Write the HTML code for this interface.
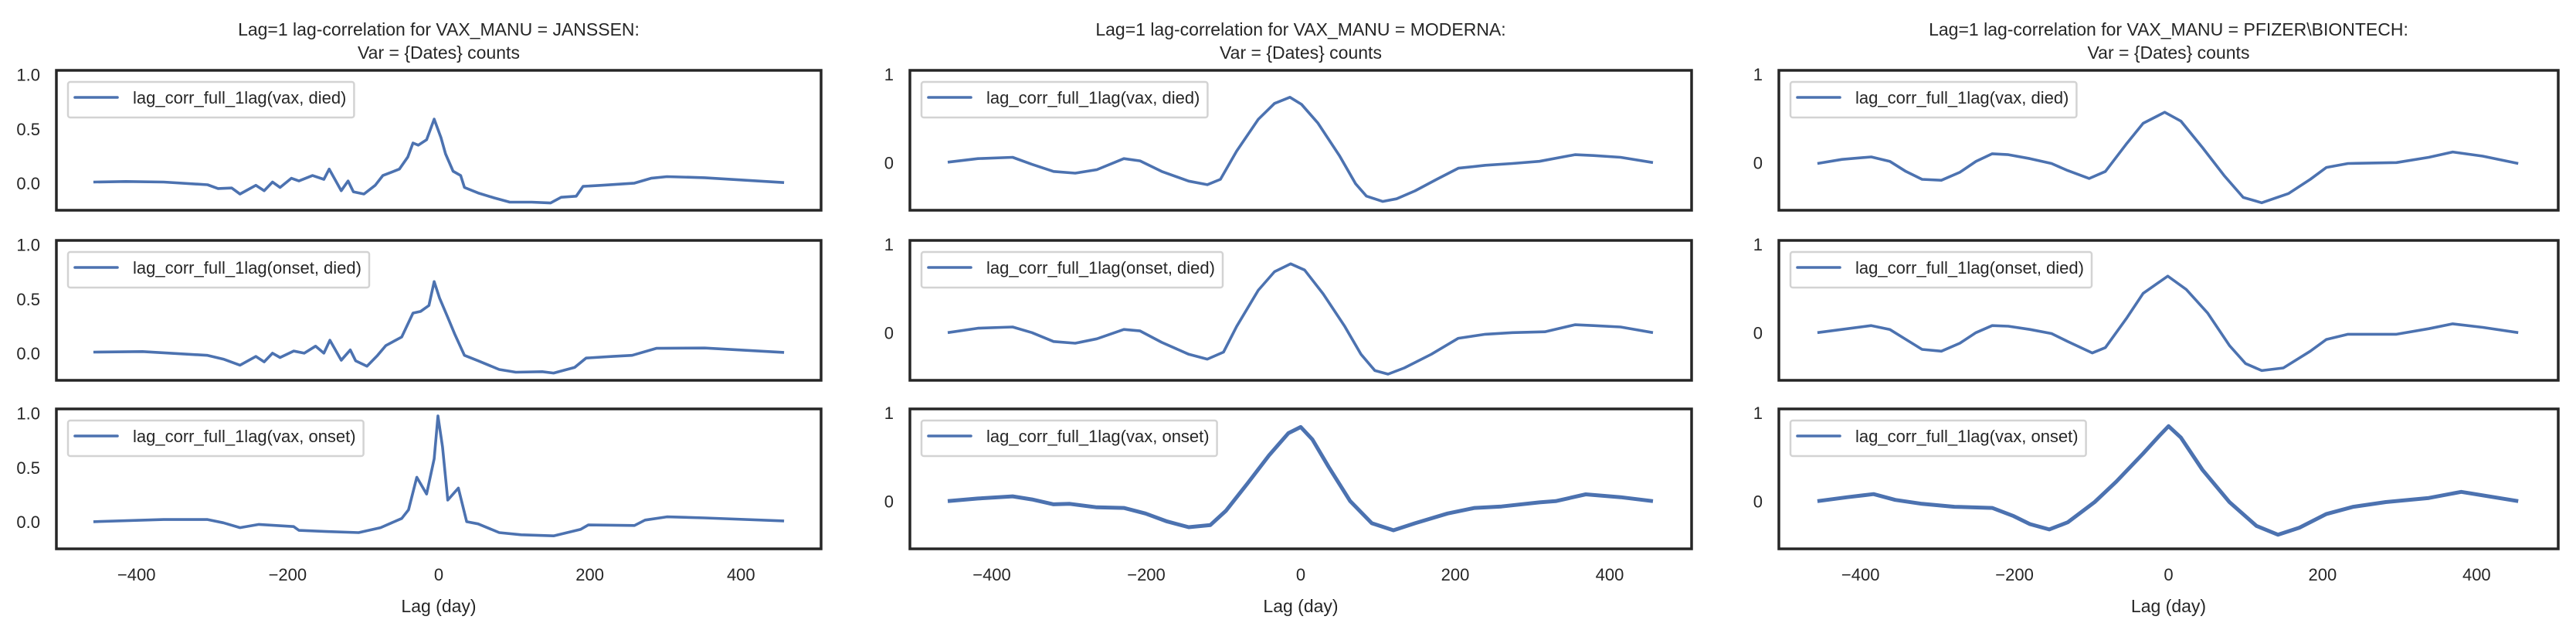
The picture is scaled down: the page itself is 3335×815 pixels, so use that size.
<!DOCTYPE html>
<html><head><meta charset="utf-8"><style>
html,body{margin:0;padding:0;background:#fff;}
svg{display:block;font-family:"Liberation Sans",Arial,sans-serif;}
</style></head><body>
<svg id="chart" width="3335" height="815" viewBox="0 0 3335 815" xmlns="http://www.w3.org/2000/svg"></svg>
<script>
// ---- data (lag in days, correlation values) ----
const manufacturers = ["JANSSEN", "MODERNA", "PFIZER\\BIONTECH"];
const seriesNames = ["lag_corr_full_1lag(vax, died)", "lag_corr_full_1lag(onset, died)", "lag_corr_full_1lag(vax, onset)"];
const xTicks = [-400, -200, 0, 200, 400];
const janssenYTicks = [0.0, 0.5, 1.0];
const janssenYTickLabels = ["0.0", "0.5", "1.0"];
const mrnaYTicks = [0, 1];
const mrnaYTickLabels = ["0", "1"];

const janVaxDiedLag = [-457,-414,-364,-306,-292,-274,-263,-242,-231,-220,-210,-195,-185,-167,-152,-145,-129,-120,-113,-99,-84,-74,-63,-52,-41,-34,-27,-16,-6,3,9,19,29,34,52,73,94,123,148,162,182,191,216,259,281,302,352,457];
const janVaxDiedVal = [0.01,0.015,0.01,-0.015,-0.05,-0.045,-0.10,-0.02,-0.07,0.01,-0.04,0.045,0.02,0.07,0.035,0.13,-0.07,0.02,-0.08,-0.10,-0.02,0.07,0.10,0.13,0.24,0.37,0.35,0.40,0.59,0.42,0.27,0.11,0.07,-0.04,-0.09,-0.135,-0.175,-0.175,-0.183,-0.13,-0.12,-0.03,-0.02,0.0,0.045,0.06,0.05,0.005];
const janOnsetDiedLag = [-457,-392,-306,-285,-263,-242,-231,-220,-210,-192,-178,-163,-152,-144,-129,-117,-110,-95,-81,-70,-49,-34,-24,-13,-6,1,12,21,34,52,80,102,137,152,180,195,230,256,288,352,457];
const janOnsetDiedVal = [0.01,0.015,-0.02,-0.055,-0.11,-0.03,-0.08,0,-0.04,0.02,0,0.065,0,0.12,-0.065,0.03,-0.07,-0.12,-0.02,0.07,0.15,0.37,0.385,0.44,0.66,0.51,0.33,0.18,-0.02,-0.07,-0.15,-0.175,-0.17,-0.183,-0.13,-0.045,-0.03,-0.02,0.045,0.048,0.007];
const janVaxOnsetLag = [-457,-364,-306,-285,-263,-238,-192,-185,-149,-106,-77,-49,-40,-29,-16,-6,-1,5,12,26,37,52,80,109,152,188,198,259,273,302,352,457];
const janVaxOnsetVal = [0,0.02,0.02,-0.01,-0.055,-0.025,-0.045,-0.08,-0.09,-0.10,-0.055,0.03,0.11,0.41,0.255,0.58,0.975,0.69,0.2,0.31,0,-0.02,-0.10,-0.12,-0.13,-0.07,-0.03,-0.035,0.015,0.045,0.035,0.007];

const modVaxDiedLag = [-457,-418,-373,-348,-320,-292,-264,-229,-208,-180,-145,-121,-104,-83,-55,-34,-14,1,22,50,71,85,106,124,148,176,204,239,274,309,355,379,414,456];
const modVaxDiedVal = [0.005,0.045,0.06,-0.02,-0.10,-0.12,-0.08,0.045,0.02,-0.10,-0.21,-0.25,-0.19,0.13,0.49,0.67,0.74,0.66,0.45,0.08,-0.24,-0.38,-0.44,-0.41,-0.32,-0.19,-0.064,-0.03,-0.01,0.014,0.09,0.08,0.06,0];
const modOnsetDiedLag = [-457,-418,-373,-348,-320,-292,-264,-229,-208,-180,-145,-121,-100,-83,-55,-34,-13,5,29,57,78,96,113,134,169,204,239,274,316,355,379,414,456];
const modOnsetDiedVal = [0,0.05,0.064,0,-0.10,-0.12,-0.07,0.036,0.02,-0.11,-0.245,-0.30,-0.22,0.07,0.48,0.69,0.78,0.71,0.44,0.07,-0.245,-0.43,-0.47,-0.40,-0.245,-0.064,-0.018,0,0.01,0.09,0.08,0.064,0];
const modVaxOnsetLag = [-457,-418,-373,-348,-320,-299,-264,-229,-201,-173,-145,-117,-97,-69,-41,-16,0,15,36,64,92,120,148,190,225,260,309,330,369,414,456];
const modVaxOnsetVal = [0,0.03,0.055,0.02,-0.036,-0.03,-0.07,-0.077,-0.14,-0.23,-0.295,-0.27,-0.11,0.2,0.52,0.77,0.84,0.70,0.39,0,-0.25,-0.33,-0.25,-0.14,-0.077,-0.06,-0.014,0,0.077,0.045,0];

const pfzVaxDiedLag = [-456,-424,-386,-362,-341,-320,-295,-271,-250,-229,-208,-180,-152,-131,-103,-82,-54,-33,-5,16,44,72,97,121,156,184,205,233,296,338,369,408,454];
const pfzVaxDiedVal = [-0.01,0.036,0.064,0.014,-0.10,-0.19,-0.20,-0.11,0.014,0.10,0.09,0.045,-0.01,-0.09,-0.18,-0.10,0.22,0.445,0.57,0.47,0.17,-0.145,-0.395,-0.455,-0.35,-0.19,-0.055,-0.01,0,0.06,0.12,0.073,-0.01];
const pfzOnsetDiedLag = [-456,-386,-362,-341,-320,-295,-271,-250,-229,-208,-180,-152,-131,-99,-82,-54,-33,-1,23,51,79,100,121,149,184,205,233,296,338,369,408,454];
const pfzOnsetDiedVal = [0,0.08,0.036,-0.077,-0.19,-0.21,-0.12,0,0.08,0.073,0.036,-0.01,-0.10,-0.23,-0.17,0.17,0.445,0.64,0.49,0.22,-0.145,-0.35,-0.43,-0.40,-0.21,-0.077,-0.018,-0.018,0.045,0.10,0.06,0];
const pfzVaxOnsetLag = [-456,-417,-383,-355,-320,-278,-229,-201,-180,-155,-131,-96,-68,-33,-12,0,16,44,79,114,142,170,205,240,282,338,380,454];
const pfzVaxOnsetVal = [0,0.045,0.08,0.014,-0.03,-0.064,-0.077,-0.17,-0.26,-0.32,-0.24,-0.01,0.22,0.54,0.74,0.85,0.72,0.355,-0.01,-0.28,-0.38,-0.30,-0.145,-0.064,-0.01,0.036,0.105,0];

const seriesLags = [[janVaxDiedLag,janOnsetDiedLag,janVaxOnsetLag],[modVaxDiedLag,modOnsetDiedLag,modVaxOnsetLag],[pfzVaxDiedLag,pfzOnsetDiedLag,pfzVaxOnsetLag]];
const seriesVals = [[janVaxDiedVal,janOnsetDiedVal,janVaxOnsetVal],[modVaxDiedVal,modOnsetDiedVal,modVaxOnsetVal],[pfzVaxDiedVal,pfzOnsetDiedVal,pfzVaxOnsetVal]];

// ---- layout ----
const NS = "http://www.w3.org/2000/svg";
const svg = document.getElementById("chart");
const colLeft = [73, 1178, 2303];
const colRight = [1063, 2190, 3312];
const rowTop = [91, 311, 529];
const rowH = 181;
const xMin = -506, xMax = 506;
const yLims = [[-0.25, 1.04], [-0.54, 1.045], [-0.54, 1.045]];
const textColor = "#262626";
const lineColor = "#4c72b0";

function mk(tag, attrs) {
  const e = document.createElementNS(NS, tag);
  for (const k in attrs) e.setAttribute(k, attrs[k]);
  return e;
}

for (let c = 0; c < 3; c++) {
  const L = colLeft[c], R = colRight[c];
  const xs = v => L + (v - xMin) / (xMax - xMin) * (R - L);
  const cx = (L + R) / 2;

  const t1 = mk("text", {x: cx, y: 46, "text-anchor": "middle", "font-size": 23, fill: textColor});
  t1.textContent = "Lag=1 lag-correlation for VAX_MANU = " + manufacturers[c] + ":";
  
  
  svg.appendChild(t1);
  const t2 = mk("text", {x: cx, y: 76, "text-anchor": "middle", "font-size": 23, fill: textColor});
  t2.textContent = "Var = {Dates} counts";
  
  
  svg.appendChild(t2);

  const yt = c === 0 ? janssenYTicks : mrnaYTicks;
  const ytl = c === 0 ? janssenYTickLabels : mrnaYTickLabels;
  const [y0, y1] = yLims[c];

  for (let r = 0; r < 3; r++) {
    const T = rowTop[r], B = T + rowH;
    const ys = v => B - (v - y0) / (y1 - y0) * rowH;
    const g = mk("g", {});
    
    
    svg.appendChild(g);

    for (let i = 0; i < yt.length; i++) {
      const tl = mk("text", {x: L - 21, y: ys(yt[i]) + 8, "text-anchor": "end", "font-size": 22, fill: textColor});
      tl.textContent = ytl[i];
      
      
      g.appendChild(tl);
    }

    const lags = seriesLags[c][r], vals = seriesVals[c][r];
    let d = "";
    for (let i = 0; i < lags.length; i++) d += (i ? "L" : "M") + xs(lags[i]).toFixed(1) + "," + ys(vals[i]).toFixed(1);
    const p = mk("path", {d: d, fill: "none", stroke: lineColor, "stroke-width": r === 2 && c > 0 ? 5 : 3.6, "stroke-linejoin": "round"});
    
    
    g.appendChild(p);

    const fr = mk("rect", {x: L, y: T, width: R - L, height: rowH, fill: "none", stroke: textColor, "stroke-width": 3.5});
    
    
    g.appendChild(fr);

    const lg = mk("g", {});
    
    
    g.appendChild(lg);
    const lbox = mk("rect", {x: L + 15, y: T + 15, width: 400, height: 46, rx: 3, fill: "#fff", stroke: "#d3d3d3", "stroke-width": 2.5});
    
    
    lg.appendChild(lbox);
    const ll = mk("line", {x1: L + 24, x2: L + 79, y1: T + 35, y2: T + 35, stroke: lineColor, "stroke-width": 3.6, "stroke-linecap": "round"});
    
    
    lg.appendChild(ll);
    const lt = mk("text", {x: L + 99, y: T + 43, "font-size": 22, fill: textColor});
    lt.textContent = seriesNames[r];
    
    
    lg.appendChild(lt);
    const w = lt.getComputedTextLength();
    lbox.setAttribute("width", (99 + w + 10 - 15).toFixed(1));

    if (r === 2) {
      for (const tv of xTicks) {
        const xl = mk("text", {x: xs(tv), y: 751, "text-anchor": "middle", "font-size": 22, fill: textColor});
        xl.textContent = tv < 0 ? "\u2212" + Math.abs(tv) : String(tv);
        
        
        g.appendChild(xl);
      }
      const xt = mk("text", {x: cx, y: 792, "text-anchor": "middle", "font-size": 23, fill: textColor});
      xt.textContent = "Lag (day)";
      
      
      g.appendChild(xt);
    }
  }
}
</script>
</body></html>
